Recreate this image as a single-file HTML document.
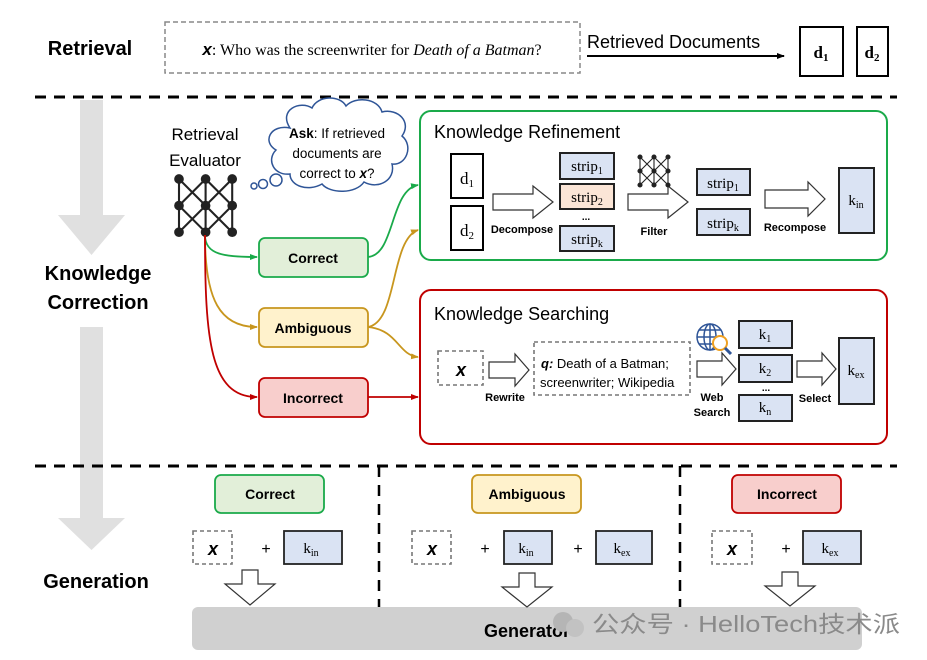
<!DOCTYPE html>
<html><head><meta charset="utf-8"><style>
html,body{margin:0;padding:0;background:#fff;}
svg{display:block;}
text{font-family:"Liberation Sans","Noto Sans CJK SC",sans-serif;}
.s, .s text, text.s{font-family:"Liberation Serif",serif;}
.b{font-weight:bold;}
</style></head><body>
<svg width="927" height="660" viewBox="0 0 927 660" xmlns="http://www.w3.org/2000/svg">
<defs>
<marker id="ak" markerWidth="8" markerHeight="8" refX="7" refY="4" orient="auto" markerUnits="userSpaceOnUse"><path d="M0,1 L8,4 L0,7z" fill="#000"/></marker>
<marker id="ag" markerWidth="8" markerHeight="8" refX="7" refY="4" orient="auto" markerUnits="userSpaceOnUse"><path d="M0,1 L8,4 L0,7z" fill="#1aaa4a"/></marker>
<marker id="ay" markerWidth="8" markerHeight="8" refX="7" refY="4" orient="auto" markerUnits="userSpaceOnUse"><path d="M0,1 L8,4 L0,7z" fill="#c8961e"/></marker>
<marker id="ar" markerWidth="8" markerHeight="8" refX="7" refY="4" orient="auto" markerUnits="userSpaceOnUse"><path d="M0,1 L8,4 L0,7z" fill="#c00000"/></marker>
<g id="na" stroke="#222" stroke-width="2.2" fill="#222">
<path d="M0,0 L0,56 M28,0 L28,56 M56,0 L56,56 M0,0 L56,56 M56,0 L0,56 M0,28 L28,0 L56,28 L28,56 Z" fill="none"/>
<circle cx="0" cy="0" r="4"/><circle cx="28" cy="0" r="4"/><circle cx="56" cy="0" r="4"/>
<circle cx="0" cy="28" r="4"/><circle cx="28" cy="28" r="4"/><circle cx="56" cy="28" r="4"/>
<circle cx="0" cy="56" r="4"/><circle cx="28" cy="56" r="4"/><circle cx="56" cy="56" r="4"/>
</g>
</defs>

<path d="M80,100 L103,100 L103,215 L125,215 L91.5,255 L58,215 L80,215Z" fill="#e0e0e0"/>
<path d="M80,327 L103,327 L103,518 L125,518 L91.5,550 L58,518 L80,518Z" fill="#e0e0e0"/>

<text x="90" y="55" text-anchor="middle" class="b" font-size="20">Retrieval</text>
<rect x="165" y="22" width="415" height="51" fill="none" stroke="#888" stroke-width="1.5" stroke-dasharray="5,3"/>
<text x="372" y="55" text-anchor="middle" class="s" font-size="16"><tspan font-family="Liberation Sans" font-weight="bold" font-style="italic" font-size="17">x</tspan>: Who was the screenwriter for <tspan font-style="italic">Death of a Batman</tspan>?</text>
<text x="587" y="48" font-size="18">Retrieved Documents</text>
<line x1="587" y1="56" x2="784" y2="56" stroke="#000" stroke-width="2" marker-end="url(#ak)"/>
<rect x="800" y="27" width="43" height="49" fill="#fff" stroke="#000" stroke-width="2"/>
<text x="821" y="58" text-anchor="middle" class="s b" font-size="17">d<tspan font-size="11" dy="3">1</tspan></text>
<rect x="857" y="27" width="31" height="49" fill="#fff" stroke="#000" stroke-width="2"/>
<text x="872" y="58" text-anchor="middle" class="s b" font-size="17">d<tspan font-size="11" dy="3">2</tspan></text>

<line x1="35" y1="97" x2="897" y2="97" stroke="#000" stroke-width="3" stroke-dasharray="11,8"/>

<text x="98" y="280" text-anchor="middle" class="b" font-size="20">Knowledge</text>
<text x="98" y="309" text-anchor="middle" class="b" font-size="20">Correction</text>

<text x="205" y="140" text-anchor="middle" font-size="17">Retrieval</text>
<text x="205" y="166" text-anchor="middle" font-size="17">Evaluator</text>
<use href="#na" transform="translate(179,179) scale(0.95)"/>

<g fill="#fff" stroke="#2f5597" stroke-width="1.5">
<path d="M290,128 C278,110 300,100 312,108 C318,95 340,95 346,106 C355,96 378,98 382,112 C398,108 412,122 402,136 C414,146 406,166 392,164 C396,180 378,190 364,182 C356,194 330,194 322,184 C308,192 290,186 290,174 C274,176 266,160 276,150 C262,142 270,124 290,128Z"/>
<circle cx="276" cy="180" r="6"/><circle cx="263" cy="184" r="4.5"/><circle cx="254" cy="186" r="3"/>
</g>
<text x="337" y="138" text-anchor="middle" font-size="13.5"><tspan font-weight="bold">Ask</tspan>: If retrieved</text>
<text x="337" y="158" text-anchor="middle" font-size="13.5">documents are</text>
<text x="337" y="178" text-anchor="middle" font-size="13.5">correct to <tspan font-weight="bold" font-style="italic">x</tspan>?</text>

<path d="M205,235 C205,255 225,257 257,257" fill="none" stroke="#1aaa4a" stroke-width="1.8" marker-end="url(#ag)"/>
<path d="M205,235 C205,300 220,327 257,327" fill="none" stroke="#c8961e" stroke-width="1.8" marker-end="url(#ay)"/>
<path d="M205,235 C205,340 210,397 257,397" fill="none" stroke="#c00000" stroke-width="1.8" marker-end="url(#ar)"/>
<path d="M368,257 C395,255 390,190 418,185" fill="none" stroke="#1aaa4a" stroke-width="1.8" marker-end="url(#ag)"/>
<path d="M368,327 C398,322 390,240 418,230" fill="none" stroke="#c8961e" stroke-width="1.8" marker-end="url(#ay)"/>
<path d="M368,327 C398,330 398,355 418,357" fill="none" stroke="#c8961e" stroke-width="1.8" marker-end="url(#ay)"/>
<line x1="368" y1="397" x2="418" y2="397" stroke="#c00000" stroke-width="1.8" marker-end="url(#ar)"/>

<rect x="259" y="238" width="109" height="39" rx="6" fill="#e2efd9" stroke="#1aaa4a" stroke-width="1.8"/>
<text x="313" y="263" text-anchor="middle" class="b" font-size="14">Correct</text>
<rect x="259" y="308" width="109" height="39" rx="6" fill="#fff2cc" stroke="#c8961e" stroke-width="1.8"/>
<text x="313" y="333" text-anchor="middle" class="b" font-size="14">Ambiguous</text>
<rect x="259" y="378" width="109" height="39" rx="6" fill="#f8cecc" stroke="#c00000" stroke-width="1.8"/>
<text x="313" y="403" text-anchor="middle" class="b" font-size="14">Incorrect</text>

<rect x="420" y="111" width="467" height="149" rx="11" fill="none" stroke="#1aaa4a" stroke-width="2"/>
<text x="434" y="138" font-size="18">Knowledge Refinement</text>
<g stroke="#000" stroke-width="2" fill="#fff">
<rect x="451" y="154" width="32" height="44"/>
<rect x="451" y="206" width="32" height="44"/>
</g>
<text x="467" y="184" text-anchor="middle" class="s" font-size="17">d<tspan font-size="11" dy="3">1</tspan></text>
<text x="467" y="236" text-anchor="middle" class="s" font-size="17">d<tspan font-size="11" dy="3">2</tspan></text>
<g fill="#fff" stroke="#333" stroke-width="1.2">
<path d="M493,194 L533,194 L533,186 L553,202 L533,218 L533,210 L493,210Z"/>
<path d="M628,194 L668,194 L668,186 L688,202 L668,218 L668,210 L628,210Z"/>
<path d="M765,190 L808,190 L808,182 L825,199 L808,216 L808,208 L765,208Z"/>
<path d="M489,362 L515,362 L515,354 L529,370 L515,386 L515,378 L489,378Z"/>
<path d="M697,361 L722,361 L722,353 L736,369 L722,385 L722,377 L697,377Z"/>
<path d="M797,361 L822,361 L822,353 L836,369 L822,385 L822,377 L797,377Z"/>
</g>
<text x="522" y="233" text-anchor="middle" class="b" font-size="11">Decompose</text>
<text x="654" y="235" text-anchor="middle" class="b" font-size="11">Filter</text>
<text x="795" y="231" text-anchor="middle" class="b" font-size="11">Recompose</text>
<g stroke="#222" stroke-width="2">
<rect x="560" y="153" width="54" height="26" fill="#dae3f3"/>
<rect x="560" y="184" width="54" height="25" fill="#fbe5d6"/>
<rect x="560" y="226" width="54" height="25" fill="#dae3f3"/>
<rect x="697" y="169" width="53" height="26" fill="#dae3f3"/>
<rect x="697" y="209" width="53" height="26" fill="#dae3f3"/>
<rect x="839" y="168" width="35" height="65" fill="#dae3f3"/>
</g>
<g class="s" font-size="15" text-anchor="middle">
<text x="587" y="171">strip<tspan font-size="10" dy="3">1</tspan></text>
<text x="587" y="202">strip<tspan font-size="10" dy="3">2</tspan></text>
<text x="587" y="244">strip<tspan font-size="10" dy="3">k</tspan></text>
<text x="723" y="188">strip<tspan font-size="10" dy="3">1</tspan></text>
<text x="723" y="228">strip<tspan font-size="10" dy="3">k</tspan></text>
<text x="856" y="205">k<tspan font-size="10" dy="3">in</tspan></text>
</g>
<text x="586" y="220" text-anchor="middle" font-size="10" class="b">...</text>
<use href="#na" transform="translate(640,157) scale(0.5)"/>

<rect x="420" y="290" width="467" height="154" rx="11" fill="none" stroke="#c00000" stroke-width="2"/>
<text x="434" y="320" font-size="18">Knowledge Searching</text>
<rect x="438" y="351" width="45" height="34" fill="none" stroke="#777" stroke-width="1.6" stroke-dasharray="4,3"/>
<text x="461" y="376" text-anchor="middle" font-size="18" font-weight="bold" font-style="italic">x</text>
<text x="505" y="401" text-anchor="middle" class="b" font-size="11">Rewrite</text>
<rect x="534" y="342" width="156" height="53" fill="none" stroke="#777" stroke-width="1.6" stroke-dasharray="4,3"/>
<text x="541" y="368" font-size="13"><tspan font-weight="bold" font-style="italic">q:</tspan> Death of a Batman;</text>
<text x="540" y="387" font-size="13">screenwriter; Wikipedia</text>
<g fill="none" stroke="#2f5597" stroke-width="1.5">
<circle cx="710" cy="337" r="13"/><ellipse cx="710" cy="337" rx="6" ry="13"/>
<line x1="697" y1="337" x2="723" y2="337"/><line x1="710" y1="324" x2="710" y2="350"/>
<line x1="699" y1="330" x2="721" y2="330"/><line x1="699" y1="344" x2="721" y2="344"/>
</g>
<circle cx="720" cy="343" r="7" fill="#fff" stroke="#f0a020" stroke-width="2"/>
<line x1="725" y1="348" x2="731" y2="354" stroke="#2f5597" stroke-width="3"/>
<text x="712" y="401" text-anchor="middle" class="b" font-size="11">Web</text>
<text x="712" y="416" text-anchor="middle" class="b" font-size="11">Search</text>
<g stroke="#222" stroke-width="2" fill="#dae3f3">
<rect x="739" y="321" width="53" height="27"/>
<rect x="739" y="355" width="53" height="27"/>
<rect x="739" y="395" width="53" height="26"/>
<rect x="839" y="338" width="35" height="66"/>
</g>
<g class="s" font-size="15" text-anchor="middle">
<text x="765" y="339">k<tspan font-size="10" dy="3">1</tspan></text>
<text x="765" y="373">k<tspan font-size="10" dy="3">2</tspan></text>
<text x="765" y="412">k<tspan font-size="10" dy="3">n</tspan></text>
<text x="856" y="375">k<tspan font-size="10" dy="3">ex</tspan></text>
</g>
<text x="766" y="391" text-anchor="middle" font-size="10" class="b">...</text>
<text x="815" y="402" text-anchor="middle" class="b" font-size="11">Select</text>

<line x1="35" y1="466" x2="897" y2="466" stroke="#000" stroke-width="3" stroke-dasharray="11,8"/>
<line x1="379" y1="466" x2="379" y2="608" stroke="#000" stroke-width="2.5" stroke-dasharray="11,8"/>
<line x1="680" y1="466" x2="680" y2="608" stroke="#000" stroke-width="2.5" stroke-dasharray="11,8"/>
<text x="96" y="588" text-anchor="middle" class="b" font-size="20">Generation</text>

<rect x="215" y="475" width="109" height="38" rx="6" fill="#e2efd9" stroke="#1aaa4a" stroke-width="1.8"/>
<text x="270" y="499" text-anchor="middle" class="b" font-size="14">Correct</text>
<rect x="472" y="475" width="109" height="38" rx="6" fill="#fff2cc" stroke="#c8961e" stroke-width="1.8"/>
<text x="527" y="499" text-anchor="middle" class="b" font-size="14">Ambiguous</text>
<rect x="732" y="475" width="109" height="38" rx="6" fill="#f8cecc" stroke="#c00000" stroke-width="1.8"/>
<text x="787" y="499" text-anchor="middle" class="b" font-size="14">Incorrect</text>

<g fill="none" stroke="#777" stroke-width="1.6" stroke-dasharray="4,3">
<rect x="193" y="531" width="39" height="33"/>
<rect x="412" y="531" width="39" height="33"/>
<rect x="712" y="531" width="40" height="33"/>
</g>
<g font-size="18" font-weight="bold" font-style="italic" text-anchor="middle">
<text x="213" y="555">x</text><text x="432" y="555">x</text><text x="732" y="555">x</text>
</g>
<g font-size="16" text-anchor="middle">
<text x="266" y="554">+</text><text x="485" y="554">+</text><text x="578" y="554">+</text><text x="786" y="554">+</text>
</g>
<g stroke="#222" stroke-width="1.8" fill="#dae3f3">
<rect x="284" y="531" width="58" height="33"/>
<rect x="504" y="531" width="48" height="33"/>
<rect x="596" y="531" width="56" height="33"/>
<rect x="803" y="531" width="58" height="33"/>
</g>
<g class="s" font-size="15" text-anchor="middle">
<text x="311" y="553">k<tspan font-size="10" dy="3">in</tspan></text>
<text x="526" y="553">k<tspan font-size="10" dy="3">in</tspan></text>
<text x="622" y="553">k<tspan font-size="10" dy="3">ex</tspan></text>
<text x="830" y="553">k<tspan font-size="10" dy="3">ex</tspan></text>
</g>
<rect x="192" y="607" width="670" height="43" rx="6" fill="#d0d0d0"/>
<g fill="#fff" stroke="#333" stroke-width="1.2">
<path d="M242,570 L258,570 L258,584 L275,584 L250,605 L225,584 L242,584Z"/>
<path d="M519,573 L535,573 L535,587 L552,587 L527,607 L502,587 L519,587Z"/>
<path d="M782,572 L798,572 L798,586 L815,586 L790,606 L765,586 L782,586Z"/>
</g>
<text x="527" y="637" text-anchor="middle" class="b" font-size="18">Generator</text>
<circle cx="563" cy="622" r="10" fill="#b5b5b5"/><circle cx="575" cy="628" r="9" fill="#c2c2c2"/>
<text x="592" y="632" font-size="23" fill="#8a8a8a" textLength="308" lengthAdjust="spacingAndGlyphs">公众号 · HelloTech技术派</text>
</svg>
</body></html>
